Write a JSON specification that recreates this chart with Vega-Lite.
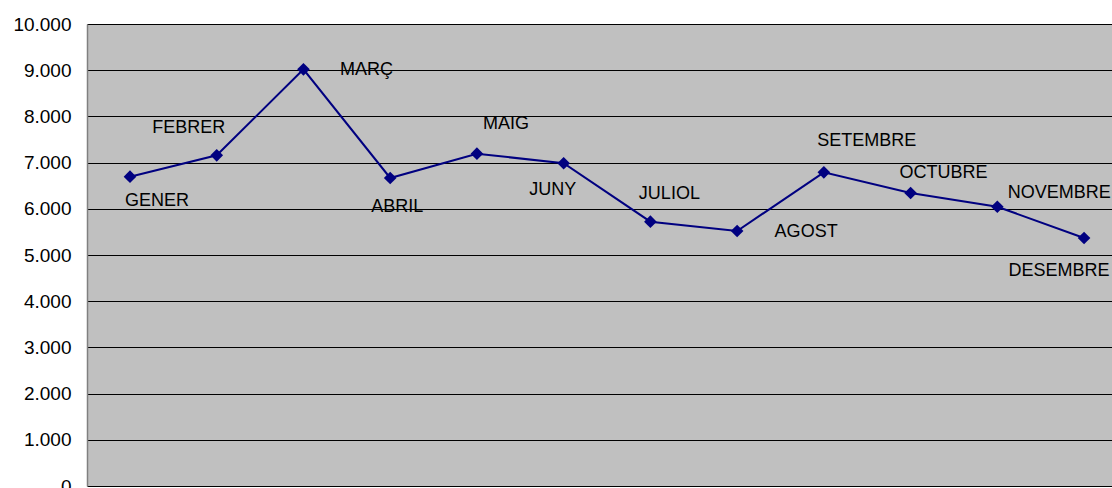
{
  "$schema": "https://vega.github.io/schema/vega-lite/v6.json",
  "autosize": "none",
  "padding": {"left": 87, "top": 24, "right": 0, "bottom": 2},
  "width": 1025,
  "height": 462,
  "background": "white",
  "config": {
    "view": {"fill": "#C0C0C0", "stroke": null},
    "font": "Liberation Sans"
  },
  "data": {
    "values": [
      {"mes": "GENER", "valor": 6695},
      {"mes": "FEBRER", "valor": 7158},
      {"mes": "MARÇ", "valor": 9019},
      {"mes": "ABRIL", "valor": 6667},
      {"mes": "MAIG", "valor": 7193},
      {"mes": "JUNY", "valor": 6985},
      {"mes": "JULIOL", "valor": 5721},
      {"mes": "AGOST", "valor": 5519},
      {"mes": "SETEMBRE", "valor": 6790},
      {"mes": "OCTUBRE", "valor": 6342},
      {"mes": "NOVEMBRE", "valor": 6045},
      {"mes": "DESEMBRE", "valor": 5368}
    ]
  },
  "encoding": {
    "x": {
      "field": "mes",
      "type": "nominal",
      "sort": null,
      "axis": null,
      "scale": {"type": "point", "padding": 0.409, "align": 0.606}
    },
    "y": {
      "field": "valor",
      "type": "quantitative",
      "scale": {"domain": [0, 10000], "nice": false, "zero": true},
      "axis": {
        "title": null,
        "values": [0, 1000, 2000, 3000, 4000, 5000, 6000, 7000, 8000, 9000, 10000],
        "labelExpr": "replace(format(datum.value, ','), ',', '.')",
        "labelFont": "Liberation Sans",
        "labelFontSize": 19,
        "labelColor": "#000000",
        "labelPadding": 16,
        "ticks": false,
        "domain": true,
        "domainColor": "#808080",
        "domainWidth": 1.5,
        "grid": true,
        "gridColor": "#000000",
        "gridWidth": 1.2,
        "gridOpacity": 1
      }
    }
  },
  "layer": [
    {"mark": {"type": "line", "color": "#000080", "strokeWidth": 2}},
    {"mark": {"type": "point", "shape": "diamond", "filled": true, "color": "#000080", "opacity": 1, "size": 160}},
    {"transform": [{"filter": "datum.mes === 'GENER'"}], "mark": {"type": "text", "font": "Liberation Sans", "fontSize": 18, "color": "#000000", "align": "center", "baseline": "alphabetic", "dx": 27, "dy": 29}, "encoding": {"text": {"field": "mes"}}},
    {"transform": [{"filter": "datum.mes === 'FEBRER'"}], "mark": {"type": "text", "font": "Liberation Sans", "fontSize": 18, "color": "#000000", "align": "center", "baseline": "alphabetic", "dx": -28, "dy": -22}, "encoding": {"text": {"field": "mes"}}},
    {"transform": [{"filter": "datum.mes === 'MARÇ'"}], "mark": {"type": "text", "font": "Liberation Sans", "fontSize": 18, "color": "#000000", "align": "center", "baseline": "alphabetic", "dx": 63, "dy": 6}, "encoding": {"text": {"field": "mes"}}},
    {"transform": [{"filter": "datum.mes === 'ABRIL'"}], "mark": {"type": "text", "font": "Liberation Sans", "fontSize": 18, "color": "#000000", "align": "center", "baseline": "alphabetic", "dx": 7, "dy": 34}, "encoding": {"text": {"field": "mes"}}},
    {"transform": [{"filter": "datum.mes === 'MAIG'"}], "mark": {"type": "text", "font": "Liberation Sans", "fontSize": 18, "color": "#000000", "align": "center", "baseline": "alphabetic", "dx": 29, "dy": -25}, "encoding": {"text": {"field": "mes"}}},
    {"transform": [{"filter": "datum.mes === 'JUNY'"}], "mark": {"type": "text", "font": "Liberation Sans", "fontSize": 18, "color": "#000000", "align": "center", "baseline": "alphabetic", "dx": -11, "dy": 32}, "encoding": {"text": {"field": "mes"}}},
    {"transform": [{"filter": "datum.mes === 'JULIOL'"}], "mark": {"type": "text", "font": "Liberation Sans", "fontSize": 18, "color": "#000000", "align": "center", "baseline": "alphabetic", "dx": 19, "dy": -23}, "encoding": {"text": {"field": "mes"}}},
    {"transform": [{"filter": "datum.mes === 'AGOST'"}], "mark": {"type": "text", "font": "Liberation Sans", "fontSize": 18, "color": "#000000", "align": "center", "baseline": "alphabetic", "dx": 69, "dy": 6}, "encoding": {"text": {"field": "mes"}}},
    {"transform": [{"filter": "datum.mes === 'SETEMBRE'"}], "mark": {"type": "text", "font": "Liberation Sans", "fontSize": 18, "color": "#000000", "align": "center", "baseline": "alphabetic", "dx": 43, "dy": -26}, "encoding": {"text": {"field": "mes"}}},
    {"transform": [{"filter": "datum.mes === 'OCTUBRE'"}], "mark": {"type": "text", "font": "Liberation Sans", "fontSize": 18, "color": "#000000", "align": "center", "baseline": "alphabetic", "dx": 33, "dy": -15}, "encoding": {"text": {"field": "mes"}}},
    {"transform": [{"filter": "datum.mes === 'NOVEMBRE'"}], "mark": {"type": "text", "font": "Liberation Sans", "fontSize": 18, "color": "#000000", "align": "center", "baseline": "alphabetic", "dx": 62, "dy": -9}, "encoding": {"text": {"field": "mes"}}},
    {"transform": [{"filter": "datum.mes === 'DESEMBRE'"}], "mark": {"type": "text", "font": "Liberation Sans", "fontSize": 18, "color": "#000000", "align": "center", "baseline": "alphabetic", "dx": -25, "dy": 38}, "encoding": {"text": {"field": "mes"}}}
  ]
}
